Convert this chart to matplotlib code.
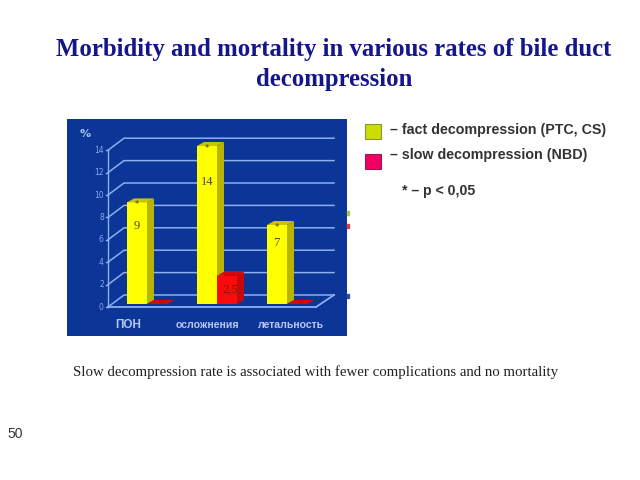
import matplotlib
matplotlib.use('Agg')
import matplotlib.pyplot as plt
from matplotlib.patches import Polygon, Rectangle

# data
categories = ['ПОН', 'осложнения', 'летальность']
fact = [9, 14, 7]
slow = [0, 2.5, 0]
fact_labels = ['9', '14', '7']
slow_labels = ['0', '2,5', '0']
yticks = [0, 2, 4, 6, 8, 10, 12, 14]
legend_items = ['– fact decompression (PTC, CS)', '– slow decompression (NBD)']
title = 'Morbidity and mortality in various rates of bile duct\ndecompression'
caption = 'Slow decompression rate is associated with fewer complications and no mortality'

W, H = 640, 480
BLUE = '#0b3596'
LINE = '#8db0ee'


def px(x, y):
    return x / W, 1 - y / H


fig = plt.figure(figsize=(6.4, 4.8), dpi=100, facecolor='white')

# panel axes: 70 px per category, 11.29 px per percent
ax = fig.add_axes([67 / W, 1 - 336 / H, 280 / W, 217 / H], facecolor=BLUE)
ax.set_xlim(-80 / 70, 200 / 70)
ax.set_ylim(-32 / 11.286, 185 / 11.286)
ax.axis('off')
ax.add_patch(Rectangle((0, 0), 1, 1, transform=ax.transAxes, color=BLUE, zorder=0))

bw = 20 / 70
dx, dy = 7 / 70, 4 / 11.286
# floor and wall offsets
fx0, bx0, bx1, fx1 = -39 / 70, -23 / 70, 187 / 70, 169 / 70
f0, b0 = -3 / 11.286, 9 / 11.286
step = 11.2 / 11.286

ax.plot([fx0, fx1], [f0, f0], color=LINE, lw=1.3, zorder=1)
ax.plot([fx0, fx0], [f0, f0 + 14 * step], color=LINE, lw=1, zorder=1)
ax.plot([bx1, fx1], [b0, f0], color=LINE, lw=1.3, zorder=1)
for v in yticks:
    ax.plot([fx0, bx0, bx1], [f0 + v * step, b0 + v * step, b0 + v * step],
            color=LINE, lw=1.1, zorder=1)
    ax.plot([fx0 - 0.03, fx0], [f0 + v * step] * 2, color=LINE, lw=1, zorder=1)
    ax.text(fx0 - 0.06, f0 + v * step, str(v), color='#8aa8e8', fontsize=5.5,
            ha='right', va='center', zorder=2)
ax.text(-0.886, 15.06, '%', color='#a9c0f0', fontsize=8, fontweight='bold',
        ha='center', va='center')


def box(x0, v, front, side, top, z):
    ax.bar(x0, v, bw, align='edge', color=front, zorder=z)
    ax.add_patch(Polygon([(x0 + bw, 0), (x0 + bw + dx, dy), (x0 + bw + dx, v + dy), (x0 + bw, v)],
                         color=side, lw=0, zorder=z))
    ax.add_patch(Polygon([(x0, v), (x0 + dx, v + dy), (x0 + bw + dx, v + dy), (x0 + bw, v)],
                         color=top, lw=0, zorder=z))


for i, cat in enumerate(categories):
    box(i - bw, fact[i], '#ffff00', '#b8b400', '#c8c400', 3)
    box(i, slow[i], '#fa0a0a', '#c80808', '#d40a0a', 4)
    ax.text(i - bw + 0.14, fact[i] - 0.2, '*', color='#444400', fontsize=6,
            ha='center', va='center', zorder=5)
    ax.text(i - bw + 0.14, fact[i] * 0.77, fact_labels[i], color='#4a4a20',
            fontsize=9, family='Liberation Serif', ha='center', va='center', zorder=5)
    ax.text(i + 0.19, max(slow[i] * 0.5, 0.2), slow_labels[i], color='#8a1010',
            fontsize=9 if i == 1 else 6, family='Liberation Serif', ha='center', va='center', zorder=5)

label_x = [-0.27, 0.87, 2.057]
for x, cat, fs in zip(label_x, categories, [8.5, 7.6, 7.6]):
    ax.text(x, -1.85, cat, color='#b6c8f2', fontsize=fs, fontweight='bold',
            ha='center', va='center', family='Liberation Sans')

# stray marks at the panel edge
for yy, c in zip([215, 228, 298], ['#a8c840', '#e04040', '#3050a0']):
    fig.add_artist(Rectangle(px(347, yy), 2 / W, 4 / H, color=c, transform=fig.transFigure))

# title
x, y = px(334, 64.5)
fig.text(x, y, title, color='#15158c', fontsize=17.8, fontweight='bold',
         family='Liberation Serif', ha='center', va='center', linespacing=1.35)

# legend
for yy, c, ec, label in zip([139, 169], ['#ccdd00', '#f00060'], ['#8a9440', '#902050'], legend_items):
    x, y = px(365, yy)
    fig.add_artist(Rectangle((x, y), 16 / W, 15 / H, facecolor=c, edgecolor=ec, lw=0.8,
                             transform=fig.transFigure))
x, y = px(390, 130)
fig.text(x, y, legend_items[0], color='#333333', fontsize=10.3, fontweight='bold',
         family='Liberation Sans', va='center')
x, y = px(390, 155)
fig.text(x, y, legend_items[1], color='#333333', fontsize=10.3, fontweight='bold',
         family='Liberation Sans', va='center')
x, y = px(402, 191)
fig.text(x, y, '* – p < 0,05', color='#333333', fontsize=10.2, fontweight='bold',
         family='Liberation Sans', va='center')

x, y = px(73, 372.5)
fig.text(x, y, caption, color='#222222', fontsize=10.7, family='Liberation Serif', va='center')
x, y = px(7, 434)
fig.text(x, y, '50', color='#333333', fontsize=10, family='Liberation Sans', va='center')

fig.savefig('out.png', dpi=100)
